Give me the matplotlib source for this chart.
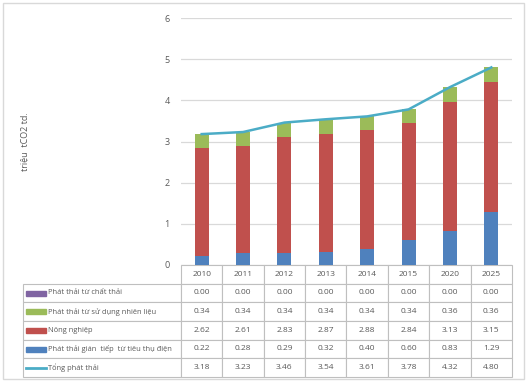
import numpy as np
import matplotlib
matplotlib.use("Agg")
import matplotlib.pyplot as plt
from matplotlib.patches import Rectangle
from matplotlib.lines import Line2D

plt.rcParams['font.family'] = ['Open Sans', 'DejaVu Sans']

years = ['2010', '2011', '2012', '2013', '2014', '2015', '2020', '2025']
waste = [0.00, 0.00, 0.00, 0.00, 0.00, 0.00, 0.00, 0.00]
fuel = [0.34, 0.34, 0.34, 0.34, 0.34, 0.34, 0.36, 0.36]
agri = [2.62, 2.61, 2.83, 2.87, 2.88, 2.84, 3.13, 3.15]
elec = [0.22, 0.28, 0.29, 0.32, 0.40, 0.60, 0.83, 1.29]
total = [3.18, 3.23, 3.46, 3.54, 3.61, 3.78, 4.32, 4.80]

labels = ['Phát thải từ chất thải', 'Phát thải từ sử dụng nhiên liệu',
          'Nông nghiệp', 'Phát thải gián  tiếp  từ tiêu thụ điện', 'Tổng phát thải']
colors = ['#8064A2', '#9BBB59', '#C0504D', '#4F81BD', '#4BACC6']
txt_col = '#595959'
grid_col = '#D9D9D9'

W, H = 529, 386
fig = plt.figure(figsize=(W / 100, H / 100), dpi=100)
ax = fig.add_axes([181 / W, 1 - 265 / H, 331 / W, 247 / H])

x = np.arange(len(years))
bw = 0.34
elec_a = np.array(elec)
agri_a = np.array(agri)
fuel_a = np.array(fuel)
ax.bar(x, elec, bw, color=colors[3], zorder=2)
ax.bar(x, agri, bw, bottom=elec_a, color=colors[2], zorder=2)
ax.bar(x, fuel, bw, bottom=elec_a + agri_a, color=colors[1], zorder=2)
ax.bar(x, waste, bw, bottom=elec_a + agri_a + fuel_a, color=colors[0], zorder=2)
ax.plot(x, total, color=colors[4], lw=1.8, zorder=3)

ax.set_xlim(-0.5, len(years) - 0.5)
ax.set_ylim(0, 6)
ax.set_yticks(range(7))
ax.set_xticks([])
ax.grid(axis='y', color=grid_col, lw=0.9, zorder=0)
for s in ax.spines.values():
    s.set_visible(False)
ax.tick_params(axis='y', length=0, pad=8, labelsize=6.5, labelcolor=txt_col)

fig.text(25 / W, 1 - 142 / H, 'triệu  tCO2 td.', rotation=90, ha='center', va='center',
         fontsize=6.5, color=txt_col)

# data table under the chart (bbox covers the year columns, labels stick out left)
cell_text = [[f'{v:.2f}' for v in row] for row in [waste, fuel, agri, elec, total]]
top_px, bot_px = 265, 377
tb_bot = (265 - bot_px) / 247
tb_h = (bot_px - top_px) / 247
tab = ax.table(cellText=cell_text, rowLabels=labels, colLabels=years,
               cellLoc='center', rowLoc='left',
               bbox=[0, tb_bot, 1, tb_h])
tab._autoColumns = []
tab.auto_set_font_size(False)
tab.set_fontsize(6)
lab_w = (181 - 23) / 331
for (r, c), cell in tab.get_celld().items():
    cell.set_width(lab_w if c == -1 else 1 / 8)
    cell.set_height(tb_h / 6)
    cell.set_edgecolor('#BFBFBF')
    cell.set_linewidth(0.8)
    cell.get_text().set_color(txt_col)
    if c == -1:
        cell.PAD = 25 / 158
        cell.get_text().set_fontsize(5.4)

row_h = (bot_px - top_px) / 6
for i, col in enumerate(colors):
    yc = top_px + row_h * (i + 1.5)
    if i < 4:
        fig.patches.append(Rectangle((26 / W, 1 - (yc + 2.5) / H), 20 / W, 5 / H,
                                     transform=fig.transFigure, color=col))
    else:
        fig.lines.append(Line2D([26 / W, 46 / W], [1 - yc / H, 1 - yc / H],
                                transform=fig.transFigure, color=col, lw=2))

# outer chart border
fig.patches.append(Rectangle((3 / W, 1 - 379 / H), 521 / W, 376 / H, transform=fig.transFigure,
                             fill=False, edgecolor=grid_col, lw=1))

fig.savefig('out.png', dpi=100)
